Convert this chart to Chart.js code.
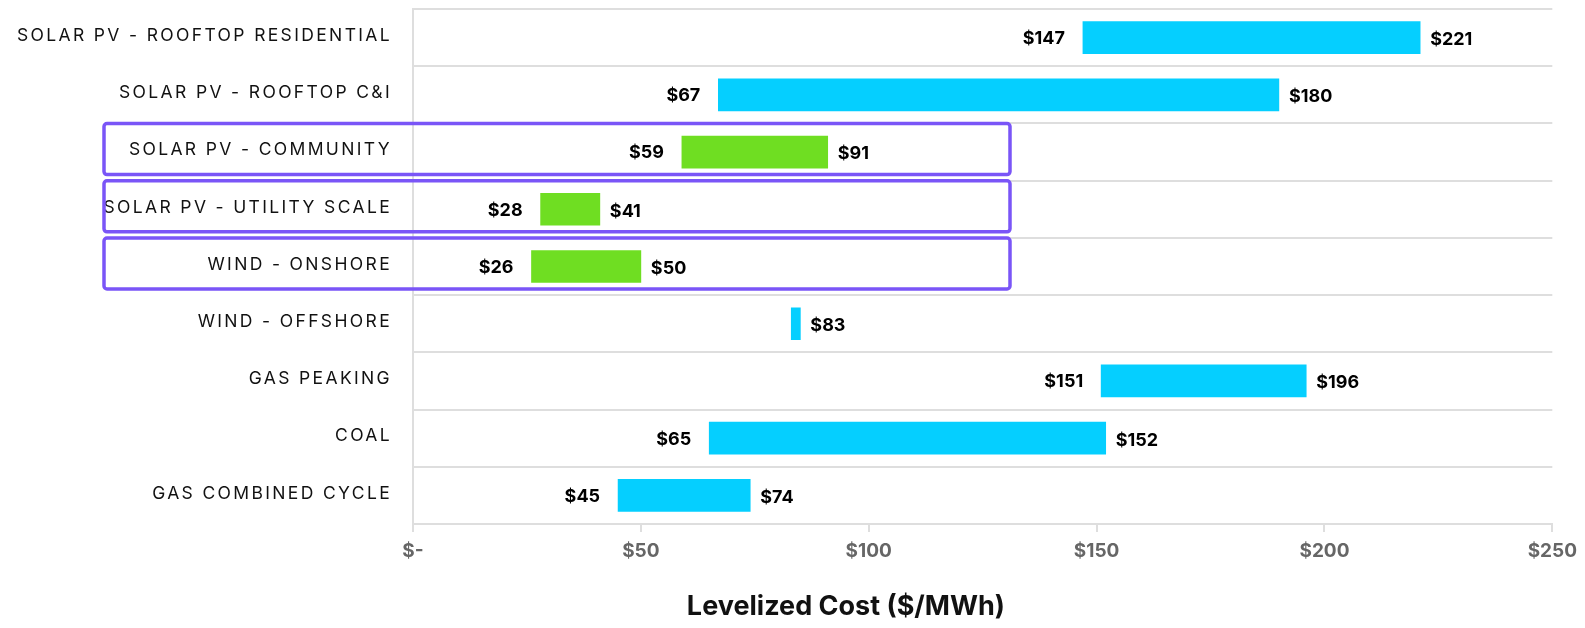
<!DOCTYPE html>
<html>
<head>
<meta charset="utf-8">
<script src="https://cdn.jsdelivr.net/npm/chart.js@4"></script>
<style>
  html, body { margin: 0; padding: 0; background: #fff; }
  #wrap { width: 1585px; height: 628px; }
</style>
</head>
<body>
<div id="wrap"><canvas id="chartCanvas" width="1585" height="628"></canvas></div>
<script>
// Data
const categories = [
  "SOLAR PV - ROOFTOP RESIDENTIAL",
  "SOLAR PV - ROOFTOP C&I",
  "SOLAR PV - COMMUNITY",
  "SOLAR PV - UTILITY SCALE",
  "WIND - ONSHORE",
  "WIND - OFFSHORE",
  "GAS PEAKING",
  "COAL",
  "GAS COMBINED CYCLE"
];
const lowValues = [147, 67, 59, 28, 26, 83, 151, 65, 45];
const highValues = [221, 190, 91, 41, 50, 85, 196, 152, 74];
const lowLabels = ["$147", "$67", "$59", "$28", "$26", "", "$151", "$65", "$45"];
const highLabels = ["$221", "$180", "$91", "$41", "$50", "$83", "$196", "$152", "$74"];
const highlighted = [false, false, true, true, true, false, false, false, false];
const xTickValues = [0, 50, 100, 150, 200, 250];
const xTickLabels = ["$-", "$50", "$100", "$150", "$200", "$250"];
const axisTitle = "Levelized Cost ($/MWh)";

const CYAN = "#05cfff";
const GREEN = "#6fde22";
const PURPLE = "#7a55f7";
const GRID = "#dedede";

// Category labels (drawn by hand for letter spacing)
const categoryLabels = {
  id: "categoryLabels",
  afterDraw(chart) {
    const { ctx, chartArea } = chart;
    const y = chart.scales.y;
    ctx.save();
    ctx.font = "400 17.5px Inter";
    ctx.letterSpacing = "2.35px";
    ctx.fillStyle = "#111";
    ctx.textAlign = "right";
    ctx.textBaseline = "middle";
    categories.forEach((c, i) => {
      ctx.fillText(c, chartArea.left - 21, y.getPixelForValue(i) - 2);
    });
    ctx.restore();
  }
};

// Bar end labels
const barLabels = {
  id: "barLabels",
  afterDatasetsDraw(chart) {
    const { ctx } = chart;
    const meta = chart.getDatasetMeta(0);
    ctx.save();
    ctx.font = "700 18px Inter";
    ctx.fillStyle = "#000";
    ctx.textBaseline = "middle";
    meta.data.forEach((bar, i) => {
      const left = Math.min(bar.x, bar.base);
      const right = Math.max(bar.x, bar.base);
      if (lowLabels[i]) {
        ctx.textAlign = "right";
        ctx.fillText(lowLabels[i], left - 18, bar.y + 1);
      }
      if (highLabels[i]) {
        ctx.textAlign = "left";
        ctx.fillText(highLabels[i], right + 10, bar.y + 2);
      }
    });
    ctx.restore();
  }
};

// Purple highlight boxes + axis title
const extras = {
  id: "extras",
  afterDraw(chart) {
    const { ctx, chartArea } = chart;
    const x = chart.scales.x;
    const y = chart.scales.y;
    ctx.save();
    ctx.strokeStyle = PURPLE;
    ctx.lineWidth = 3.5;
    const right = x.getPixelForValue(131);
    highlighted.forEach((h, i) => {
      if (!h) return;
      const cy = y.getPixelForValue(i) - 3;
      ctx.beginPath();
      ctx.roundRect(104, cy - 25.5, right - 104, 51, 3);
      ctx.stroke();
    });

    ctx.font = "700 27px Inter";
    ctx.fillStyle = "#111";
    ctx.textAlign = "center";
    ctx.textBaseline = "middle";
    ctx.fillText(axisTitle, chartArea.left + chartArea.width * 0.38, 607);
    ctx.restore();
  }
};

const ctx = document.getElementById("chartCanvas").getContext("2d");

const chart = new Chart(ctx, {
  type: "bar",
  data: {
    labels: categories,
    datasets: [{
      data: lowValues.map((v, i) => [v, highValues[i]]),
      backgroundColor: highlighted.map(h => h ? GREEN : CYAN),
      barThickness: 32,
      borderSkipped: false
    }]
  },
  options: {
    indexAxis: "y",
    responsive: false,
    animation: false,
    layout: { padding: { top: 9, right: 29, left: 0, bottom: 0 } },
    plugins: {
      legend: { display: false },
      tooltip: { enabled: false }
    },
    scales: {
      x: {
        min: 0,
        max: 250,
        afterFit: s => { s.height = 104; },
        afterBuildTicks: s => { s.ticks = xTickValues.map(v => ({ value: v })); },
        ticks: {
          callback: (v) => xTickLabels[xTickValues.indexOf(v)],
          color: "#666",
          font: { family: "Inter", size: 19, weight: "700" },
          padding: 8,
          maxRotation: 0
        },
        grid: {
          drawOnChartArea: false,
          drawTicks: true,
          tickLength: 8,
          color: GRID,
          lineWidth: 2
        },
        border: { color: GRID, width: 2 }
      },
      y: {
        afterFit: s => { s.width = 413; },
        ticks: { display: false },
        grid: {
          offset: true,
          drawTicks: false,
          color: GRID,
          lineWidth: 2
        },
        border: { color: GRID, width: 2 }
      }
    }
  },
  plugins: [categoryLabels, barLabels, extras]
});
</script>
</body>
</html>
